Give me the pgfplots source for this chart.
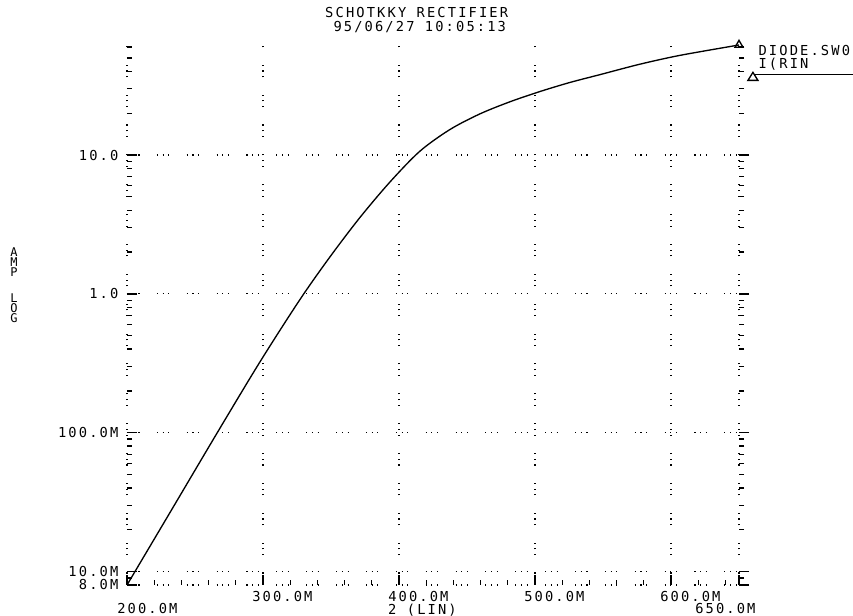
\documentclass[border=0pt]{standalone}
\usepackage{fontspec}
\usepackage{graphicx}
\usepackage{pgfplots}
\pgfplotsset{compat=1.18}
\newfontfamily\pf[LetterSpace=15.5]{DejaVu Sans Mono}
\newcommand\pltfont{\pf\fontsize{10.3pt}{9.75pt}\selectfont}
\newcommand\titlefont{\pf\fontsize{10.3pt}{10.5pt}\selectfont}
\newcommand\labfont{\pf\fontsize{9pt}{7.6pt}\selectfont}
\newcommand\legtext{\vbox{\baselineskip=9.75pt\lineskiplimit=-\maxdimen\hbox{DIODE.SW0}\hbox{I(RIN}}}

\pgfplotsset{
  myax/.style={
    scale only axis, width=459pt, height=405pt,
    at={(95.25pt,23.25pt)}, anchor=south west,
    xmin=0.2, xmax=0.65, ymin=0.008, ymax=62,
    axis line style={draw=none},
    major tick length=7.5pt, minor tick length=3.75pt,
    tick style={black, line width=1pt},
    ytick={0.008,0.01,0.1,1,10},
    minor ytick={0.009,0.02,0.03,0.04,0.05,0.06,0.07,0.08,0.09,0.2,0.3,0.4,0.5,0.6,0.7,0.8,0.9,2,3,4,5,6,7,8,9,20,30,40,50,60},
    clip=false,
  }
}

\begin{document}
\begin{tikzpicture}
\useasboundingbox (0,0) rectangle (639.75pt,462pt);
% right-hand ticks (pointing outward)
\begin{axis}[ymode=log, myax, tick align=outside, ytick pos=right, xtick=\empty, yticklabels={}]
\addplot[draw=none] coordinates {(0.2,0.01) (0.65,10)};
\end{axis}
\begin{axis}[ymode=log, myax, tick align=inside, xtick pos=bottom, ytick pos=left,
  xtick={0.2,0.3,0.4,0.5,0.6,0.65},
  xticklabels={,300.0M,400.0M,500.0M,600.0M,},
  minor xtick={0.22,0.24,0.26,0.28,0.32,0.34,0.36,0.38,0.42,0.44,0.46,0.48,0.52,0.54,0.56,0.58,0.62,0.64},
  xticklabel style={font=\pltfont, anchor=north west, inner sep=0pt, xshift=-8.25pt, yshift=-4.4pt},
  yticklabels={8.0M,10.0M,100.0M,1.0,10.0},
  yticklabel style={font=\pltfont, anchor=east, inner sep=0pt, xshift=-6.3pt},
  grid=major,
  major grid style={black, line width=0.9pt, dash pattern=on 0.8pt off 3.5pt on 0.8pt off 3.5pt on 0.8pt off 13pt},
  every axis title shift=0pt,
  title={SCHOTKKY RECTIFIER\\\phantom{0}95/06/27 10:05:13},
  title style={font=\titlefont, align=left, at={(0.3235,1)}, anchor=south west, inner sep=0pt, yshift=9pt},
  xlabel={2 (LIN)},
  xlabel style={font=\pltfont, at={(axis description cs:0.4444,0)}, anchor=north west, inner sep=0pt, xshift=-8.25pt, yshift=-13.8pt},
  ylabel={A\\M\\P\\[12pt]L\\O\\G},
  ylabel style={font=\labfont, align=center, rotate=-90, at={(axis description cs:0,0.555)}, anchor=center, inner sep=0pt, xshift=-84.75pt},
  legend style={at={(1,1)}, anchor=north west, xshift=6pt, yshift=0pt, draw=none, fill=none, inner sep=0pt, font=\pltfont, nodes={inner sep=0pt}},
  legend cell align=left,
]
\addplot[black, line width=1pt, smooth, mark=triangle, mark indices={18}, mark size=3.5pt,
  mark options={fill=white, line width=1pt},
  legend image code/.code={
    \draw[overlay, black, line width=1pt] (0pt,-12.6pt) -- (85pt,-12.6pt);
    \draw[overlay, black, line width=1pt, fill=white, line join=miter] (-3.75pt,-16.9pt) -- (3.75pt,-16.9pt) -- (0pt,-10.9pt) -- cycle;
    \path (-3.75pt,0pt) (3.75pt,0pt);
  }] coordinates {
  (0.2000,0.00800)
  (0.2316,0.0266)
  (0.2669,0.102)
  (0.2978,0.324)
  (0.3272,0.911)
  (0.3493,1.85)
  (0.3713,3.55)
  (0.3934,6.40)
  (0.4154,10.66)
  (0.4375,15.27)
  (0.4596,19.80)
  (0.4816,24.18)
  (0.5037,28.67)
  (0.5257,33.31)
  (0.5478,37.93)
  (0.5772,45.10)
  (0.6066,52.2)
  (0.6500,62.0)
};
\addlegendentry{\legtext}
\node[font=\pltfont, anchor=north west, inner sep=0pt, xshift=-7.5pt, yshift=-13.8pt] at (rel axis cs:0,0) {200.0M};
\node[font=\pltfont, anchor=north west, inner sep=0pt, xshift=-33pt, yshift=-13.8pt] at (rel axis cs:1,0) {650.0M};
\end{axis}
\end{tikzpicture}
\end{document}
